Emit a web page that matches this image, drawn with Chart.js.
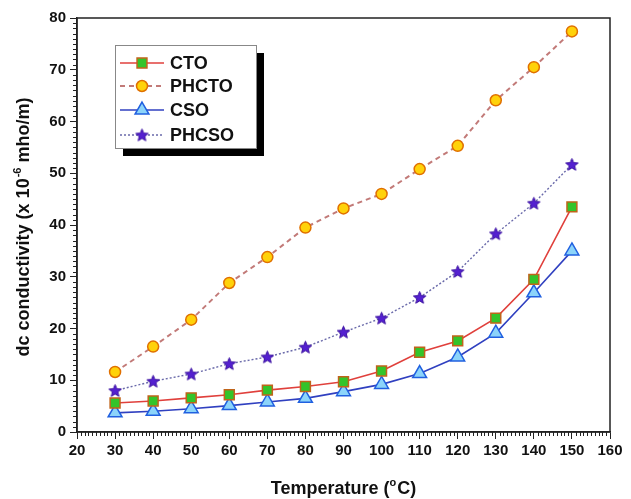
<!DOCTYPE html>
<html>
<head>
<meta charset="utf-8">
<script src="https://cdn.jsdelivr.net/npm/chart.js@4"></script>
<style>
  html, body { margin: 0; padding: 0; background: #fff; }
  #wrap { width: 631px; height: 499px; position: relative; }
</style>
</head>
<body>
<div id="wrap"><canvas id="chart" width="631" height="499"></canvas></div>
<script>
// temperatures (deg C)
let temps = [30, 40, 50, 60, 70, 80, 90, 100, 110, 120, 130, 140, 150];

// dc conductivity (x 10^-6 mho/m)
let cto   = [5.6, 6.0, 6.6, 7.2, 8.1, 8.8, 9.7, 11.8, 15.4, 17.6, 22.0, 29.5, 43.5];
let phcto = [11.6, 16.5, 21.7, 28.8, 33.8, 39.5, 43.2, 46.0, 50.8, 55.3, 64.1, 70.5, 77.4];
let cso   = [3.7, 4.0, 4.5, 5.1, 5.8, 6.5, 7.8, 9.2, 11.3, 14.5, 19.1, 26.9, 35.0];
let phcso = [8.0, 9.8, 11.2, 13.2, 14.5, 16.4, 19.3, 22.0, 26.0, 31.0, 38.3, 44.2, 51.7];

let seriesNames = ["CTO", "PHCTO", "CSO", "PHCSO"];
let xTicks = [20, 30, 40, 50, 60, 70, 80, 90, 100, 110, 120, 130, 140, 150, 160];
let yTicks = [0, 10, 20, 30, 40, 50, 60, 70, 80];

const FONT = "'Liberation Sans', Arial, Helvetica, sans-serif";

// filled star marker
function makeStar(size, fill, stroke) {
  let c = document.createElement("canvas");
  c.width = size;
  c.height = size;
  let g = c.getContext("2d");
  let cx = size / 2, cy = size / 2 + 0.5;
  let R = size / 2 - 1, r = R * 0.45;
  g.beginPath();
  for (let i = 0; i < 10; i++) {
    let rad = i % 2 == 0 ? R : r;
    let a = -Math.PI / 2 + (i * Math.PI) / 5;
    let px = cx + rad * Math.cos(a);
    let py = cy + rad * Math.sin(a);
    if (i == 0) g.moveTo(px, py);
    else g.lineTo(px, py);
  }
  g.closePath();
  g.fillStyle = fill;
  g.fill();
  g.lineWidth = 1;
  g.strokeStyle = stroke;
  g.stroke();
  return c;
}
let starImg = makeStar(15, "#5420d0", "#3a10a0");

function pts(arr) {
  return arr.map(function (v, i) {
    return { x: temps[i], y: v };
  });
}

const datasets = [
  {
    label: seriesNames[0],
    data: pts(cto),
    borderColor: "#e0403c",
    borderWidth: 1.6,
    pointStyle: "rect",
    pointRadius: 7,
    pointBackgroundColor: "#33c42a",
    pointBorderColor: "#c0641a",
    pointBorderWidth: 1.5,
    order: 2,
  },
  {
    label: seriesNames[1],
    data: pts(phcto),
    borderColor: "#c27a78",
    borderWidth: 2,
    borderDash: [5, 4],
    pointStyle: "circle",
    pointRadius: 5.5,
    pointBackgroundColor: "#ffd20a",
    pointBorderColor: "#e07000",
    pointBorderWidth: 1.5,
    order: 1,
  },
  {
    label: seriesNames[2],
    data: pts(cso),
    borderColor: "#3040c0",
    borderWidth: 1.6,
    pointStyle: "triangle",
    pointRadius: 8,
    pointBackgroundColor: "#8cd4fa",
    pointBorderColor: "#2060e0",
    pointBorderWidth: 1.5,
    order: 3,
  },
  {
    label: seriesNames[3],
    data: pts(phcso),
    borderColor: "#6a6aaa",
    borderWidth: 1.4,
    borderDash: [2, 2],
    pointStyle: starImg,
    pointRadius: 7,
    order: 0,
  },
];

// frame, minor ticks, axis titles, legend
const decorations = {
  id: "decorations",
  afterDraw(chart) {
    const ctx = chart.ctx;
    const a = chart.chartArea;
    const xs = chart.scales.x;
    const ys = chart.scales.y;
    ctx.save();

    // frame
    ctx.strokeStyle = "#222";
    ctx.lineWidth = 1.5;
    ctx.strokeRect(a.left, a.top, a.right - a.left, a.bottom - a.top);

    // minor ticks
    ctx.lineWidth = 1;
    ctx.beginPath();
    for (let v = 20; v <= 160; v++) {
      if (v % 10 == 0) continue;
      let px = Math.round(xs.getPixelForValue(v)) + 0.5;
      ctx.moveTo(px, a.bottom);
      ctx.lineTo(px, a.bottom + 4);
    }
    for (let v = 0; v <= 80; v++) {
      if (v % 10 == 0) continue;
      let py = Math.round(ys.getPixelForValue(v)) + 0.5;
      ctx.moveTo(a.left, py);
      ctx.lineTo(a.left - 4, py);
    }
    ctx.stroke();

    // x title
    ctx.fillStyle = "#111";
    ctx.textBaseline = "alphabetic";
    let big = "bold 18px " + FONT;
    let sup = "bold 11px " + FONT;
    ctx.font = big;
    let p1 = "Temperature (", p3 = "C)";
    ctx.font = sup;
    let wSup = ctx.measureText("o").width;
    ctx.font = big;
    let w1 = ctx.measureText(p1).width, w3 = ctx.measureText(p3).width;
    let total = w1 + wSup + 1 + w3;
    let cx = (a.left + a.right) / 2;
    let x0 = cx - total / 2;
    let base = 494;
    ctx.fillText(p1, x0, base);
    ctx.font = sup;
    ctx.fillText("o", x0 + w1, base - 8);
    ctx.font = big;
    ctx.fillText(p3, x0 + w1 + wSup + 1, base);

    // y title
    ctx.save();
    ctx.translate(29, (a.top + a.bottom) / 2 + 2);
    ctx.rotate(-Math.PI / 2);
    let q1 = "dc conductivity (x 10", q2 = "-6", q3 = " mho/m)";
    ctx.font = big;
    let v1 = ctx.measureText(q1).width, v3 = ctx.measureText(q3).width;
    ctx.font = sup;
    let v2 = ctx.measureText(q2).width;
    let tot = v1 + v2 + 1 + v3;
    let y0 = -tot / 2;
    ctx.font = big;
    ctx.fillText(q1, y0, 0);
    ctx.font = sup;
    ctx.fillText(q2, y0 + v1 + 1, -8);
    ctx.font = big;
    ctx.fillText(q3, y0 + v1 + v2 + 1, 0);
    ctx.restore();

    // legend box with shadow
    let lx = 115, ly = 45, lw = 141, lh = 103;
    ctx.fillStyle = "#000";
    ctx.fillRect(lx + 8, ly + 8, lw, lh);
    ctx.fillStyle = "#fff";
    ctx.fillRect(lx, ly, lw, lh);
    ctx.strokeStyle = "#888";
    ctx.lineWidth = 1;
    ctx.strokeRect(lx + 0.5, ly + 0.5, lw, lh);

    let rowY = [63, 86, 110, 135];
    let order = [0, 1, 2, 3];
    order.forEach(function (i, k) {
      let ds = chart.data.datasets[i];
      let yy = rowY[k];
      ctx.save();
      ctx.strokeStyle = ds.borderColor;
      ctx.lineWidth = ds.borderWidth;
      ctx.setLineDash(ds.borderDash || []);
      ctx.beginPath();
      ctx.moveTo(120, yy);
      ctx.lineTo(164, yy);
      ctx.stroke();
      ctx.setLineDash([]);
      ctx.fillStyle = ds.pointBackgroundColor || "#000";
      ctx.strokeStyle = ds.pointBorderColor || "#000";
      ctx.lineWidth = ds.pointBorderWidth || 1;
      Chart.helpers.drawPoint(
        ctx,
        { pointStyle: ds.pointStyle, radius: ds.pointRadius, rotation: 0, borderWidth: ds.pointBorderWidth || 1 },
        142,
        yy
      );
      ctx.restore();
      ctx.fillStyle = "#111";
      ctx.font = "bold 18px " + FONT;
      ctx.textBaseline = "middle";
      ctx.fillText(ds.label, 170, yy + 1);
    });

    ctx.restore();
  },
};

new Chart(document.getElementById("chart"), {
  type: "line",
  data: { datasets: datasets },
  options: {
    responsive: false,
    animation: false,
    layout: { padding: { top: 18, right: 21, left: 0, bottom: 0 } },
    plugins: { legend: { display: false }, tooltip: { enabled: false } },
    scales: {
      x: {
        type: "linear",
        min: 20,
        max: 160,
        afterBuildTicks(scale) {
          scale.ticks = xTicks.map(function (v) { return { value: v }; });
        },
        afterFit(scale) {
          scale.height = 67;
        },
        grid: { drawOnChartArea: false, drawTicks: true, tickLength: 7, color: "#222", lineWidth: 1 },
        border: { display: true, color: "#222", width: 1.5 },
        ticks: {
          color: "#111",
          font: { family: FONT, size: 15, weight: "bold" },
          padding: 3,
          maxRotation: 0,
          autoSkip: false,
        },
      },
      y: {
        type: "linear",
        min: 0,
        max: 80,
        afterBuildTicks(scale) {
          scale.ticks = yTicks.map(function (v) { return { value: v }; });
        },
        afterFit(scale) {
          scale.width = 77;
        },
        grid: { drawOnChartArea: false, drawTicks: true, tickLength: 7, color: "#222", lineWidth: 1 },
        border: { display: true, color: "#222", width: 1.5 },
        ticks: {
          color: "#111",
          font: { family: FONT, size: 15, weight: "bold" },
          padding: 4,
          autoSkip: false,
        },
      },
    },
  },
  plugins: [decorations],
});
</script>
</body>
</html>
